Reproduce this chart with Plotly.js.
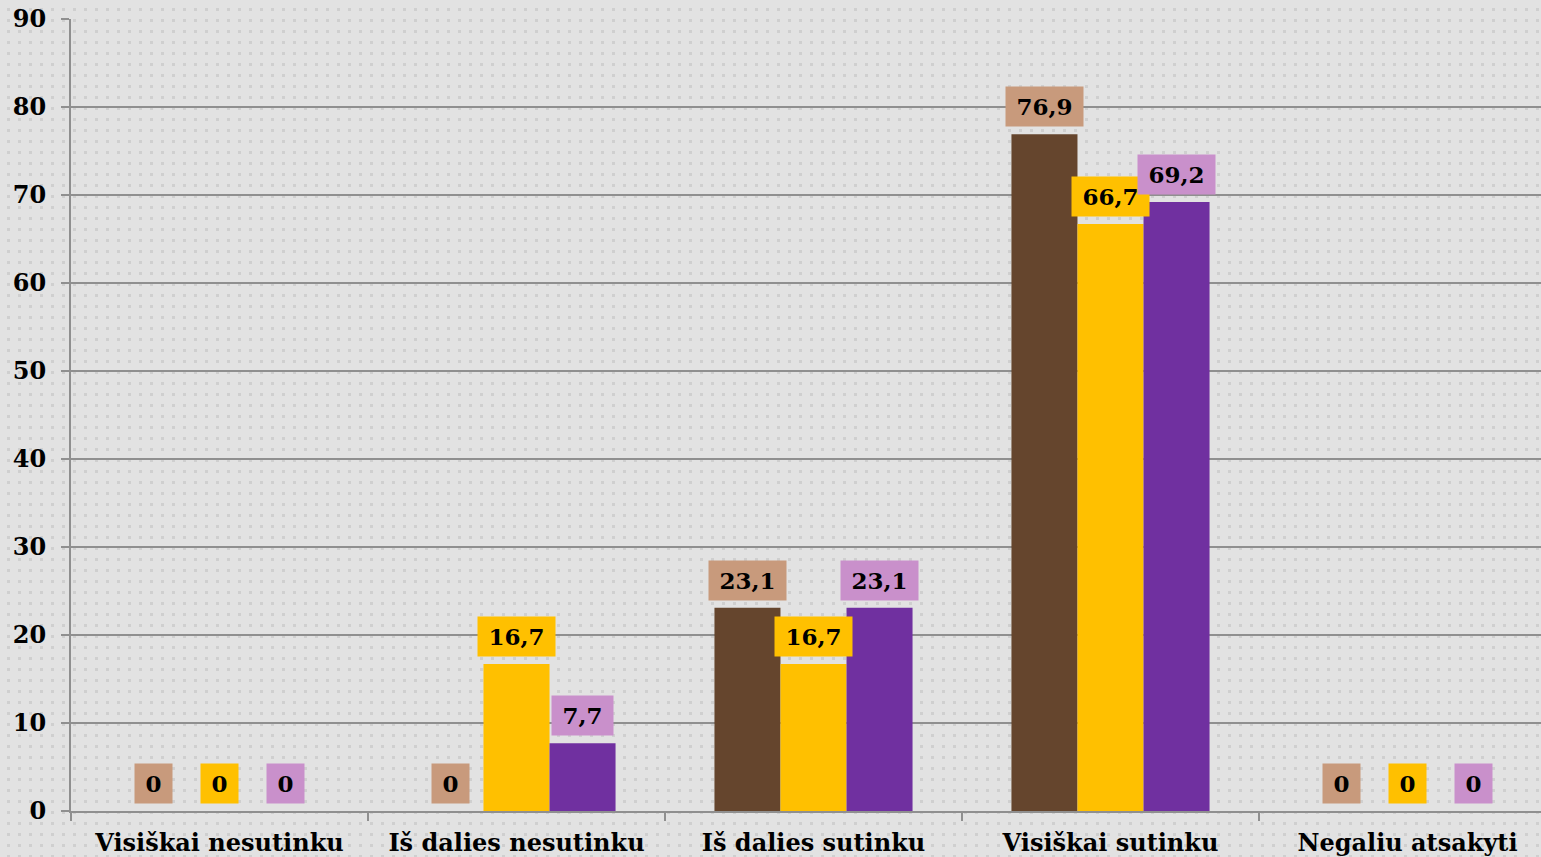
<!DOCTYPE html>
<html>
<head>
<meta charset="utf-8">
<script src="https://cdn.plot.ly/plotly-3.0.1.min.js"></script>
<style>
html,body{margin:0;padding:0;width:1541px;height:857px;overflow:hidden;background:#e2e2e2;}
#bg{position:absolute;left:0;top:0;width:1541px;height:857px;
  background-color:#e2e2e2;
  background-image: radial-gradient(circle at 50% 50%, #cfcfcf 0px, #cfcfcf 1.6px, rgba(0,0,0,0) 2px);
  background-size:11px 11px;
  background-position:3px 4px;
}
#chart{position:absolute;left:0;top:0;width:1556px;height:857px;}
</style>
</head>
<body>
<div id="bg"></div>
<div id="chart"></div>
<script>
const categories = ["Visiškai nesutinku", "Iš dalies nesutinku", "Iš dalies sutinku", "Visiškai sutinku", "Negaliu atsakyti"];
const series1 = [0, 0, 23.1, 76.9, 0];
const series2 = [0, 16.7, 16.7, 66.7, 0];
const series3 = [0, 7.7, 23.1, 69.2, 0];
const yTicks = [0, 10, 20, 30, 40, 50, 60, 70, 80, 90];

const seriesList = [series1, series2, series3];
const barColors = ["#65452d", "#ffc000", "#7030a0"];
const labelColors = ["#c89a7c", "#ffc000", "#c990cb"];

const W = 1556, H = 857;
const margin = {l: 71, r: 0, t: 19, b: 46};
const bargap = 0.333;
const plotW = W - margin.l - margin.r;
const barPx = plotW / categories.length * (1 - bargap) / seriesList.length;
const FONT = "DejaVu Serif, serif";

const traces = seriesList.map((vals, i) => ({
  type: "bar",
  x: categories,
  y: vals,
  name: "S" + (i + 1),
  marker: {color: barColors[i], line: {width: 0}},
  hoverinfo: "skip"
}));

const annotations = [];
seriesList.forEach((vals, i) => {
  vals.forEach((v, j) => {
    annotations.push({
      x: categories[j],
      y: v,
      xref: "x",
      yref: "y",
      text: "\u2009" + String(v).replace(".", ",") + "\u2009",
      showarrow: false,
      xanchor: "center",
      yanchor: "bottom",
      xshift: (i - 1) * barPx,
      yshift: 7,
      bgcolor: labelColors[i],
      borderpad: 6,
      font: {family: FONT, size: 23, color: "#000000", weight: "bold"}
    });
  });
});

const layout = {
  width: W,
  height: H,
  margin: margin,
  paper_bgcolor: "rgba(0,0,0,0)",
  plot_bgcolor: "rgba(0,0,0,0)",
  barmode: "group",
  bargap: bargap,
  bargroupgap: 0,
  showlegend: false,
  font: {family: FONT, color: "#000000"},
  xaxis: {
    type: "category",
    tickson: "boundaries",
    ticks: "outside",
    ticklen: 8,
    tickwidth: 1.5,
    tickcolor: "#8f8f8f",
    ticklabelstandoff: 9,
    showline: true,
    linecolor: "#8f8f8f",
    linewidth: 2,
    showgrid: false,
    tickfont: {family: FONT, size: 24, color: "#000000", weight: "bold"},
    fixedrange: true
  },
  yaxis: {
    range: [0, 90],
    tickvals: yTicks,
    ticktext: yTicks.map(String),
    ticks: "outside",
    ticklen: 8,
    tickwidth: 1.5,
    tickcolor: "#8f8f8f",
    ticklabelstandoff: 10,
    showline: true,
    linecolor: "#8f8f8f",
    linewidth: 2,
    showgrid: true,
    gridcolor: "#8f8f8f",
    gridwidth: 1.5,
    zeroline: false,
    tickfont: {family: FONT, size: 24, color: "#000000", weight: "bold"},
    fixedrange: true
  },
  annotations: annotations
};

Plotly.newPlot("chart", traces, layout, {displayModeBar: false, staticPlot: true});
</script>
</body>
</html>
